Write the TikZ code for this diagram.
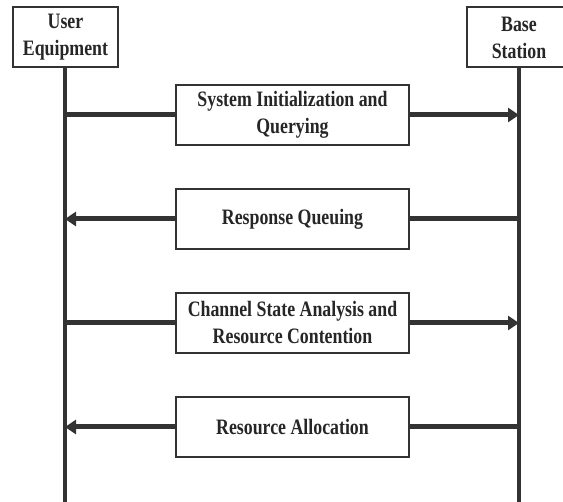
\documentclass[tikz,border=0pt]{standalone}
\usepackage{fontspec}
\setmainfont{Liberation Serif}[FakeStretch=0.81]
\usetikzlibrary{positioning, arrows.meta}

\begin{document}
\begin{tikzpicture}[x=1pt, y=1pt, node distance = 42pt, auto]
        \tikzset{box/.style={draw=black!80, line width=2pt, fill=white, align=center, inner sep=0pt,
                font=\bfseries\fontsize{22}{27}\selectfont, text=black!85}}
        \tikzset{msg/.style={box, minimum width=233pt, minimum height=60pt}}
        \tikzset{party/.style={box, minimum width=105pt, minimum height=60pt}}
        \tikzset{life/.style={draw=black!80, line width=4pt}}
        \tikzset{flow/.style={draw=black!80, line width=5pt}}
        \tikzset{tip/.style={flow, -{Triangle[length=11pt, width=14pt]}}}
        \useasboundingbox (0,0) rectangle (563,502);

        \node[party] (ue) at (65.5,465) {User\\Equipment};
        \node[party] (bs) at (519,464.5) {Base\\Station};
        \coordinate (ue end) at (65,0);
        \coordinate (bs end) at (519,0);

        % lifelines
        \draw[life] (ue.south -| ue end) -- (ue end);
        \draw[life] (bs.south -| bs end) -- (bs end);

        \node[msg] (m1) at (292.5,387) {System Initialization and\\Querying};
        \node[msg] (m2) [below = of m1] {Response Queuing};
        \node[msg] (m3) [below = of m2] {Channel State Analysis and\\Resource Contention};
        \node[msg] (m4) [below = of m3] {Resource Allocation};

        \draw[flow] (m1.west -| ue end) -- (m1.west);
        \draw[tip] (m1.east) -- (m1.east -| bs end);

        \draw[flow] (m2.east -| bs end) -- (m2.east);
        \draw[tip] (m2.west) -- (m2.west -| ue end);

        \draw[flow] (m3.west -| ue end) -- (m3.west);
        \draw[tip] (m3.east) -- (m3.east -| bs end);

        \draw[flow] (m4.east -| bs end) -- (m4.east);
        \draw[tip] (m4.west) -- (m4.west -| ue end);
    \end{tikzpicture}
\end{document}
